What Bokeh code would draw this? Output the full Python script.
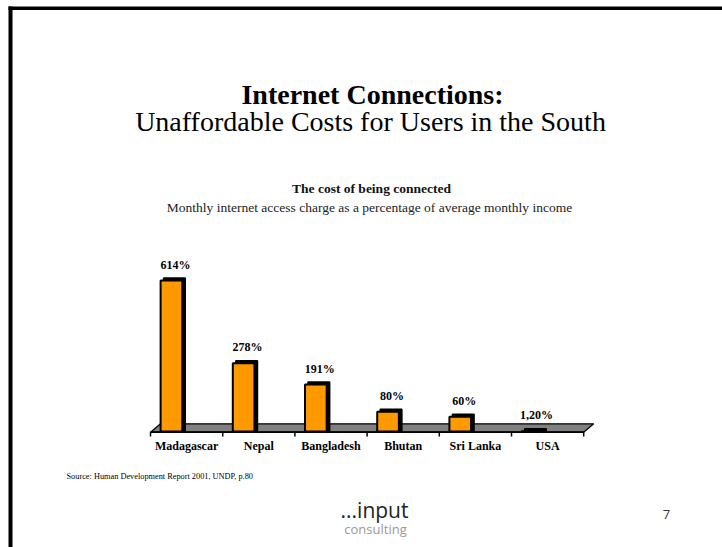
from bokeh.plotting import figure
from bokeh.models import Range1d, Label, ColumnDataSource
from bokeh.core.properties import value
from bokeh.embed import file_html
from bokeh.resources import INLINE

# ---- data ----
categories = ["Madagascar", "Nepal", "Bangladesh", "Bhutan", "Sri Lanka", "USA"]
values = [614, 278, 191, 80, 60, 1.2]
value_labels = ["614%", "278%", "191%", "80%", "60%", "1,20%"]

title = "Internet Connections:"
subtitle = "Unaffordable Costs for Users in the South"
chart_title = "The cost of being connected"
chart_subtitle = "Monthly internet access charge as a percentage of average monthly income"
source_note = "Source: Human Development Report 2001, UNDP, p.80"

# ---- geometry (page pixels -> data units) ----
W, H = 722, 547
PX_X = 72.2      # pixels per category
X_ORIG = 150.0   # page x of first category boundary
PX_Y = 0.2459    # pixels per percentage point
Y_ORIG = 431.0   # page y of the bar base


def fx(px):
    return (px - X_ORIG) / PX_X


def fy(py):
    return (Y_ORIG - py) / PX_Y


SERIF = "Liberation Serif"
SANS = "Open Sans"

p = figure(width=W, height=H, output_backend="svg", toolbar_location=None,
           x_range=Range1d(fx(0), fx(W)), y_range=Range1d(fy(H), fy(0)),
           min_border=0)
p.axis.visible = False
p.grid.visible = False
p.outline_line_color = None
p.background_fill_color = "white"
p.border_fill_color = "white"

n = len(categories)

# slide frame (top and left)
p.quad(left=[fx(8)], right=[fx(W)], top=[fy(6)], bottom=[fy(9.5)],
       fill_color="black", line_color=None)
p.quad(left=[fx(8)], right=[fx(12)], top=[fy(6)], bottom=[fy(H)],
       fill_color="black", line_color=None)

# floor (3D base)
dx = 10 / PX_X
y_front = fy(431.7)
y_back = fy(423.3)
p.patch(x=[0, n, n + dx, dx], y=[y_front, y_front, y_back, y_back],
        fill_color="#808080", line_color="black", line_width=1.2)
p.line(x=[0, n], y=[y_front, y_front], line_color="black", line_width=1.8)
bounds = list(range(n + 1))
p.segment(x0=bounds, y0=[y_front] * (n + 1), x1=bounds, y1=[fy(436)] * (n + 1),
          line_color="black", line_width=1.5)

# bars
bar_w = 0.30
centers = [i + 0.29 for i in range(n)]
sx = 3 / PX_X
sy = 2.5 / PX_Y
src = ColumnDataSource(dict(
    x=centers, top=values, cat=categories, lab=value_labels,
    sl=[c - bar_w / 2 + sx for c in centers],
    sr=[c + bar_w / 2 + sx for c in centers],
    st=[v + sy for v in values],
    sb=[0] * n,
    lx=[i + 0.345 for i in range(n)],
    cx=[i + 0.5 for i in range(n)],
    cy=[y_front] * n,
))
p.quad(left="sl", right="sr", top="st", bottom="sb", source=src,
       fill_color="black", line_color="black", line_width=1.5)
p.vbar(x="x", width=bar_w, top="top", bottom=0, source=src,
       fill_color="#FF9900", line_color="black", line_width=2)

# value labels
p.text(x="lx", y="top", text="lab", source=src, y_offset=-9,
       text_align="center", text_baseline="bottom",
       text_font=value(SERIF), text_font_style="bold", text_font_size="12px",
       text_color="black")

# category labels
p.text(x="cx", y="cy", text="cat", source=src, y_offset=14,
       text_align="center", text_baseline="middle",
       text_font=value(SERIF), text_font_style="bold", text_font_size="12px",
       text_color="black")


# titles
def add_label(txt, px, py, size, style="normal", color="black", font=SERIF, align="center"):
    p.add_layout(Label(x=fx(px), y=fy(py), text=txt, text_align=align,
                       text_baseline="middle", text_font=font,
                       text_font_size=size, text_font_style=style,
                       text_color=color))


add_label(title, 372, 94, "28px", style="bold")
add_label(subtitle, 370, 121, "28px")
add_label(chart_title, 371, 188, "13.5px", style="bold", color="#111111")
add_label(chart_subtitle, 369, 207, "13.5px", color="#222222")
add_label(source_note, 66, 476, "8.3px", align="left")
add_label("...input", 374, 509, "21px", color="#222222", font=SANS)
add_label("consulting", 375, 528, "13px", color="#999999", font=SANS)
add_label("7", 666, 514, "13px", color="#333333", font=SANS)

open("out.html", "w").write(file_html(p, INLINE))
